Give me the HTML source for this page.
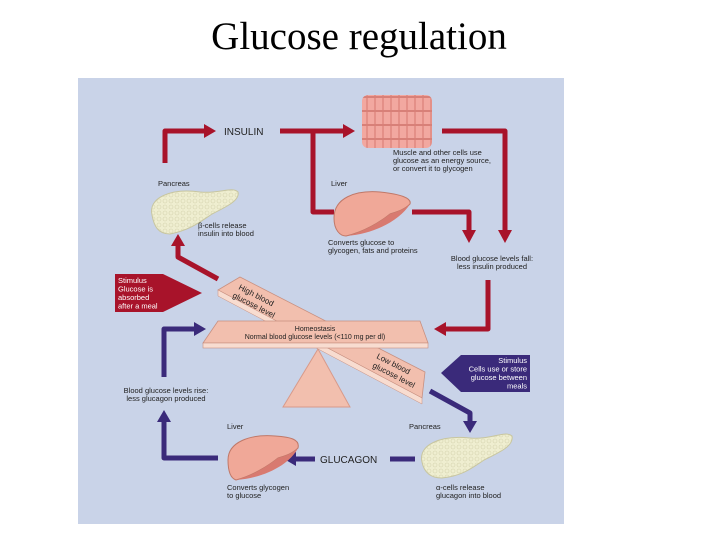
<!DOCTYPE html>
<html><head><meta charset="utf-8"><style>
body{margin:0;background:#fff;width:720px;height:540px;overflow:hidden}
svg{display:block}
text{font-family:"Liberation Sans",sans-serif}
</style></head><body>
<svg width="720" height="540" viewBox="0 0 720 540">
<defs>
<pattern id="mus" width="8" height="14" patternUnits="userSpaceOnUse">
<rect width="8" height="14" fill="#f2a8a0"/><rect x="6" width="2" height="14" fill="#e49088"/><rect y="12" width="8" height="2" fill="#d88078"/>
</pattern>
<pattern id="pan" width="6" height="6" patternUnits="userSpaceOnUse">
<rect width="6" height="6" fill="#efeed0"/><circle cx="3" cy="3" r="2" fill="none" stroke="#d6d4b0" stroke-width="0.6"/>
</pattern>
</defs>
<text x="359" y="49" text-anchor="middle" style="font-family:'Liberation Serif',serif;font-size:39px;fill:#000">Glucose regulation</text>
<rect x="78" y="78" width="486" height="446" fill="#c9d3e8"/>

<g style="fill:#222">
<!-- red arrows -->
<g fill="none" stroke="#a8132a" stroke-width="5" stroke-linejoin="round">
<path d="M165 163 V131 H206"/>
<path d="M280 131 H345"/>
<path d="M313 131 V212 H334"/>
<path d="M442 131 H505 V232"/>
<path d="M412 212 H469 V232"/>
<path d="M488 280 V329 H444"/>
<path d="M218 279 L178 257 V244"/>
</g>
<g fill="#a8132a">
<polygon points="204,124 216,131 204,138"/>
<polygon points="343,124 355,131 343,138"/>
<polygon points="498,230 512,230 505,243"/>
<polygon points="462,230 476,230 469,243"/>
<polygon points="446,322 434,329 446,336"/>
<polygon points="171,246 185,246 178,234"/>
<polygon points="115,274 163,274 202,293 163,312 115,312"/>
</g>
</g>
<text x="224" y="135" style="font-size:10px;fill:#222">INSULIN</text>
<g style="font-size:7.5px;fill:#fff"><text x="118" y="283">Stimulus</text><text x="118" y="291.5">Glucose is</text><text x="118" y="300">absorbed</text><text x="118" y="308.5">after a meal</text></g>

<!-- blue arrows -->
<g fill="none" stroke="#3a2a7a" stroke-width="5" stroke-linejoin="round">
<path d="M164 377 V329 H196"/>
<path d="M218 458 H164 V420"/>
<path d="M415 459 H390"/>
<path d="M315 459 H292"/>
<path d="M430 391 L470 413 V423"/>
</g>
<g fill="#3a2a7a">
<polygon points="194,322 206,329 194,336"/>
<polygon points="157,422 171,422 164,410"/>
<polygon points="296,452 284,459 296,466"/>
<polygon points="463,421 477,421 470,433"/>
<polygon points="441,373 461,355 530,355 530,392 461,392"/>
</g>
<text x="320" y="463" style="font-size:10px;fill:#222">GLUCAGON</text>
<g style="font-size:7.5px;fill:#fff" text-anchor="end"><text x="527" y="363">Stimulus</text><text x="527" y="371.5">Cells use or store</text><text x="527" y="380">glucose between</text><text x="527" y="388.5">meals</text></g>

<!-- seesaw -->
<polygon points="283,407 350,407 318,349" fill="#f2bfae" stroke="#d89a8a"/>
<polygon points="240,277 425,372 422,398 218,290" fill="#f2bfae" stroke="#c89080" stroke-width="0.8"/>
<polygon points="218,290 422,398 422,404 218,296" fill="#f8dcd0" stroke="#c89080" stroke-width="0.5"/>
<polygon points="218,321 420,321 428,343 203,343" fill="#f2bfae" stroke="#c89080" stroke-width="0.8"/>
<rect x="203" y="343" width="225" height="5" fill="#f8dcd0" stroke="#c89080" stroke-width="0.6"/>
<g style="fill:#222">
<text x="315" y="331" text-anchor="middle" style="font-size:7px">Homeostasis</text>
<text x="315" y="339" text-anchor="middle" style="font-size:7px">Normal blood glucose levels (&lt;110 mg per dl)</text>
<g style="font-size:8px"><text transform="translate(238,289) rotate(27)">High blood</text><text transform="translate(232,297) rotate(27)">glucose level</text>
<text transform="translate(376,358) rotate(27)">Low blood</text><text transform="translate(372,367) rotate(27)">glucose level</text></g>
</g>

<!-- organs -->
<rect x="362" y="95" width="70" height="53" rx="6" fill="url(#mus)"/>
<path d="M152 215 C148 198 170 188 200 192 C220 194 232 186 238 192 C240 200 228 206 212 214 C200 222 190 230 170 234 C158 234 154 226 152 215Z" fill="url(#pan)" stroke="#c8c6a0"/>
<path d="M422 462 C418 445 440 435 470 438 C490 440 505 430 512 436 C514 446 500 452 484 460 C472 468 462 476 442 478 C430 478 424 472 422 462Z" fill="url(#pan)" stroke="#c8c6a0"/>
<path d="M334 218 C334 198 355 190 380 192 C400 194 412 198 410 204 C404 210 396 212 390 214 C380 222 364 232 346 236 C340 236 334 230 334 218Z" fill="#f0a898" stroke="#c07868"/>
<path d="M346 236 C364 232 380 222 390 214 C396 212 404 210 410 204 C400 220 375 234 346 236Z" fill="#d87a70"/>
<path d="M228 460 C228 442 250 434 275 436 C292 437 300 440 298 448 C292 454 285 456 278 458 C268 466 252 476 236 480 C230 478 228 470 228 460Z" fill="#f0a898" stroke="#c07868"/>
<path d="M236 480 C252 476 268 466 278 458 C285 456 292 454 298 448 C290 464 265 478 236 480Z" fill="#d87a70"/>

<g style="font-size:7.5px;fill:#222">
<text x="158" y="186">Pancreas</text>
<text x="198" y="228">β-cells release</text><text x="198" y="236">insulin into blood</text>
<text x="331" y="186">Liver</text>
<text x="328" y="245">Converts glucose to</text><text x="328" y="253">glycogen, fats and proteins</text>
<text x="393" y="155">Muscle and other cells use</text><text x="393" y="163">glucose as an energy source,</text><text x="393" y="171">or convert it to glycogen</text>
<text x="492" y="261" text-anchor="middle">Blood glucose levels fall:</text><text x="492" y="269" text-anchor="middle">less insulin produced</text>
<text x="166" y="393" text-anchor="middle">Blood glucose levels rise:</text><text x="166" y="401" text-anchor="middle">less glucagon produced</text>
<text x="227" y="429">Liver</text>
<text x="227" y="490">Converts glycogen</text><text x="227" y="498">to glucose</text>
<text x="409" y="429">Pancreas</text>
<text x="436" y="490">α-cells release</text><text x="436" y="498">glucagon into blood</text>
</g>
</svg>
</body></html>
